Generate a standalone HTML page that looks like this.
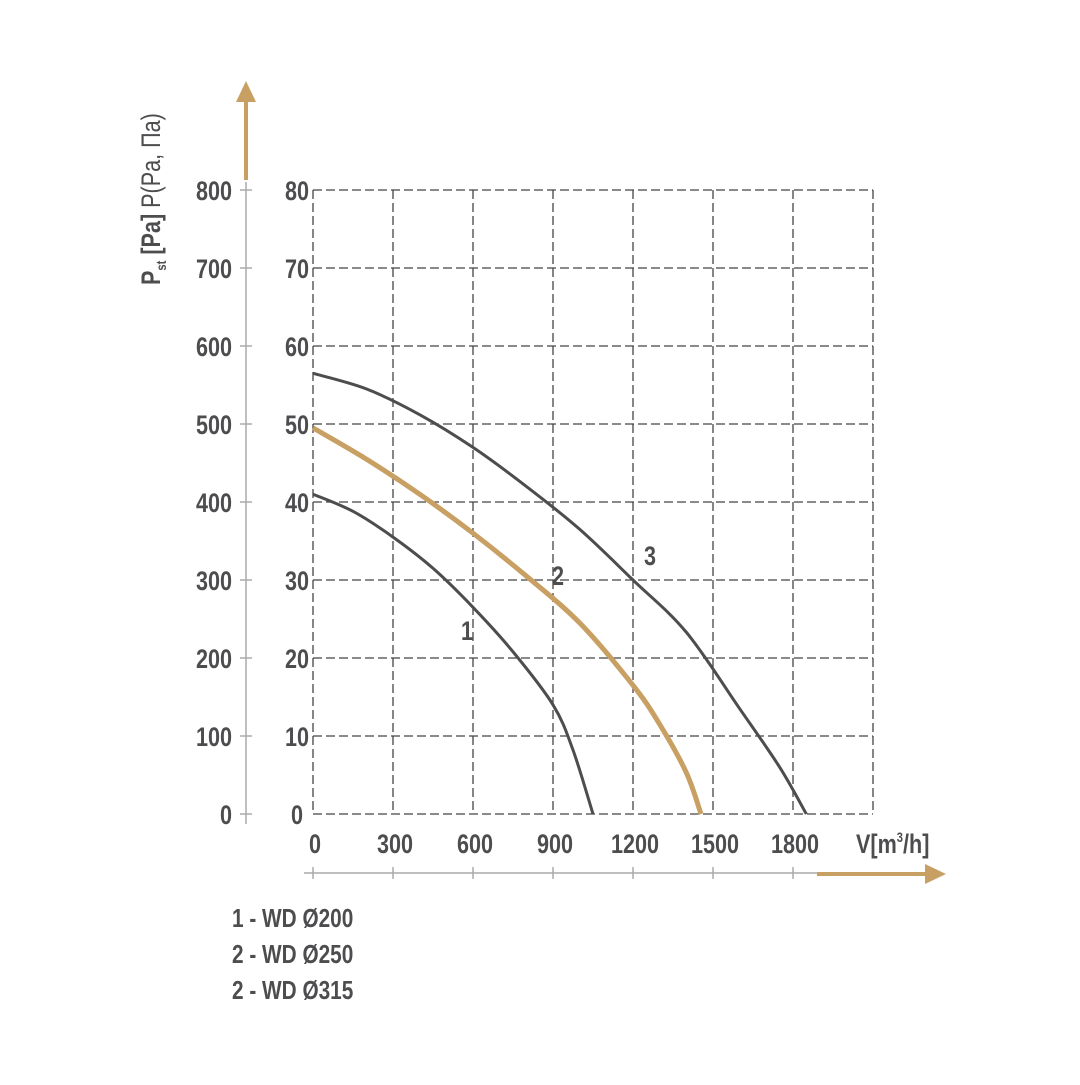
<!DOCTYPE html>
<html><head><meta charset="utf-8"><style>
body{margin:0;background:#fff}
svg text{font-family:"Liberation Sans Narrow","Liberation Sans",sans-serif;font-weight:bold;fill:#4d4d4f}
</style></head><body>
<svg id="c" width="1080" height="1080" viewBox="0 0 1080 1080">
<g id="grid"></g>
<g id="axes"></g>
<g id="curves"></g>
<g id="labels"></g>
<text transform="translate(160,285) rotate(-90) scale(0.8,1)" font-size="27">P<tspan font-size="14" dy="6">st</tspan><tspan dy="-6"> [Pa] </tspan><tspan font-weight="normal">P(Pa, Па)</tspan></text>
<text transform="translate(856,853) scale(0.8,1)" font-size="27">V[m<tspan font-size="14" dy="-11">3</tspan><tspan dy="11">/h]</tspan></text>
<g>
<text transform="translate(232,927) scale(0.8,1)" font-size="26">1 - WD Ø200</text>
<text transform="translate(232,963) scale(0.8,1)" font-size="26">2 - WD Ø250</text>
<text transform="translate(232,999) scale(0.8,1)" font-size="26">2 - WD Ø315</text>
</g>
</svg>
<script>
const xTicks=[0,300,600,900,1200,1500,1800];
const yTicks=[0,10,20,30,40,50,60,70,80];
const yTicksPa=[0,100,200,300,400,500,600,700,800];
const s1x=[0,150,300,450,600,750,900,975,1050];
const s1y=[41,38.8,35.5,31.5,26.5,20.8,14,8.2,0];
const s2x=[0,200,400,600,800,1000,1200,1300,1400,1455];
const s2y=[49.5,45.5,41,36,30.5,24.5,16.5,11.5,5.3,0];
const s3x=[0,200,400,600,800,1000,1200,1400,1600,1750,1850];
const s3y=[56.5,54.5,51.2,47,42,36.5,30,23.3,13.5,6,0];
const X=v=>313+v*80/300, Y=v=>814-v*7.8;
const NS='http://www.w3.org/2000/svg';
function mk(t,a,p){const e=document.createElementNS(NS,t);for(const k in a)e.setAttribute(k,a[k]);p.appendChild(e);return e;}
const grid=document.getElementById('grid'),axes=document.getElementById('axes'),curves=document.getElementById('curves'),labels=document.getElementById('labels');
const xmax=2100;
for(const v of [...xTicks,2100]){const l=mk('line',{x1:X(v),x2:X(v),y1:Y(80),y2:Y(0),stroke:'#444',"stroke-width":1.3,"stroke-dasharray":'9,4'},grid);

}
yTicks.forEach(v=>{const l=mk('line',{x1:X(0),x2:X(xmax),y1:Y(v),y2:Y(v),stroke:'#444',"stroke-width":1.3,"stroke-dasharray":'9,4'},grid);

});
mk('line',{x1:246,x2:246,y1:Y(80)-8,y2:Y(0)+10,stroke:'#aaa',"stroke-width":1.5},axes);
mk('line',{x1:246,x2:246,y1:180,y2:98,stroke:'#c9a063',"stroke-width":4},axes);
mk('polygon',{points:'236,102 256,102 246,81',fill:'#c9a063'},axes);
function lab(txt,x,y,anchor,name){const t=mk('text',{transform:`translate(${x},${y}) scale(0.8,1)`,"font-size":27,"text-anchor":anchor},labels);t.textContent=txt;

return t;}
yTicks.forEach((v,i)=>{mk('line',{x1:240,x2:252,y1:Y(v),y2:Y(v),stroke:'#aaa',"stroke-width":1.5},axes);
lab(yTicksPa[i],232,Y(v)+10,'end','y-tick-label-pa');
lab(v,297,Y(v)+10,'middle','y-tick-label');});
mk('line',{x1:304,x2:820,y1:873,y2:873,stroke:'#aaa',"stroke-width":1.5},axes);
mk('line',{x1:817,x2:928,y1:874,y2:874,stroke:'#c9a063',"stroke-width":4},axes);
mk('polygon',{points:'925,864 925,884 946,874',fill:'#c9a063'},axes);
xTicks.forEach(v=>{mk('line',{x1:X(v),x2:X(v),y1:867,y2:879,stroke:'#aaa',"stroke-width":1.5},axes);
lab(v,X(v)+2,853,'middle','x-tick-label');});
function path(xs,ys){const p=xs.map((x,i)=>[X(x),Y(ys[i])]);let d='M'+p[0];for(let i=0;i<p.length-1;i++){const a=p[Math.max(i-1,0)],b=p[i],c=p[i+1],e=p[Math.min(i+2,p.length-1)];
d+=' C'+(b[0]+(c[0]-a[0])/6)+','+(b[1]+(c[1]-a[1])/6)+' '+(c[0]-(e[0]-b[0])/6)+','+(c[1]-(e[1]-b[1])/6)+' '+c;}return d;}
[[s1x,s1y,'#4d4d4f',3],[s2x,s2y,'#c9a063',5],[s3x,s3y,'#4d4d4f',3]].forEach((s,i)=>{
const p=mk('path',{d:path(s[0],s[1]),fill:'none',stroke:s[2],"stroke-width":s[3]},curves);

});
[['1',467,640],['2',558,585],['3',650,565]].forEach(a=>{lab(a[0],a[1],a[2],'middle','curve-label');});
</script>
</body></html>
